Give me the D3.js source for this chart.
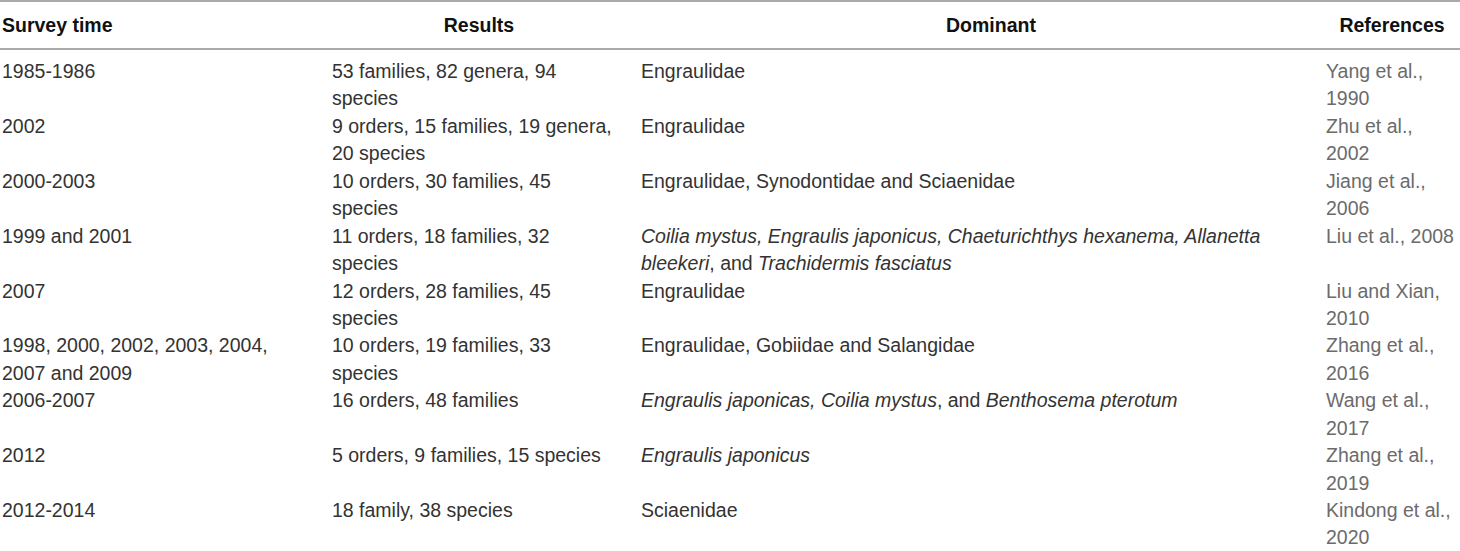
<!DOCTYPE html>
<html>
<head>
<meta charset="utf-8">
<script src="https://cdn.jsdelivr.net/npm/d3@7"></script>
<style>
  html, body { margin: 0; padding: 0; background: #fff; }
  svg { display: block; font-family: "Liberation Sans", Arial, sans-serif; }
</style>
</head>
<body>
<div id="chart"></div>
<script>
// Données du tableau (une ligne de texte = une entrée, *...* = italique)
const headers = ['Survey time', 'Results', 'Dominant', 'References'];

const surveyTimes = [
    ['1985-1986'],
    ['2002'],
    ['2000-2003'],
    ['1999 and 2001'],
    ['2007'],
    ['1998, 2000, 2002, 2003, 2004,', '2007 and 2009'],
    ['2006-2007'],
    ['2012'],
    ['2012-2014']
];

const results = [
    ['53 families, 82 genera, 94', 'species'],
    ['9 orders, 15 families, 19 genera,', '20 species'],
    ['10 orders, 30 families, 45', 'species'],
    ['11 orders, 18 families, 32', 'species'],
    ['12 orders, 28 families, 45', 'species'],
    ['10 orders, 19 families, 33', 'species'],
    ['16 orders, 48 families'],
    ['5 orders, 9 families, 15 species'],
    ['18 family, 38 species']
];

const dominants = [
    ['Engraulidae'],
    ['Engraulidae'],
    ['Engraulidae, Synodontidae and Sciaenidae'],
    ['*Coilia mystus, Engraulis japonicus, Chaeturichthys hexanema, Allanetta*', '*bleekeri*, and *Trachidermis fasciatus*'],
    ['Engraulidae'],
    ['Engraulidae, Gobiidae and Salangidae'],
    ['*Engraulis japonicas, Coilia mystus*, and *Benthosema pterotum*'],
    ['*Engraulis japonicus*'],
    ['Sciaenidae']
];

const references = [
    ['Yang et al.,', '1990'],
    ['Zhu et al.,', '2002'],
    ['Jiang et al.,', '2006'],
    ['Liu et al., 2008'],
    ['Liu and Xian,', '2010'],
    ['Zhang et al.,', '2016'],
    ['Wang et al.,', '2017'],
    ['Zhang et al.,', '2019'],
    ['Kindong et al.,', '2020']
];

const W = 1460, H = 551;
const FONT = 19.5;
const LINE_H = 27.4;

const svg = d3.select('#chart').append('svg')
    .attr('width', W)
    .attr('height', H)
    .attr('viewBox', `0 0 ${W} ${H}`);

// Colonnes : bord gauche du texte, position de l'en-tête
const colLeft    = [2, 332, 641, 1326];
const headAnchor = [
    { x: 2,    anchor: 'start'  },
    { x: 479,  anchor: 'middle' },
    { x: 991,  anchor: 'middle' },
    { x: 1392, anchor: 'middle' }
];
const colColor = ['#333', '#333', '#333', '#6b6b6b'];

// Lignes horizontales (haut + sous l'en-tête)
svg.selectAll('line.rule')
    .data([1, 49])
    .join('line')
    .attr('class', 'rule')
    .attr('x1', 0).attr('x2', W)
    .attr('y1', d => d).attr('y2', d => d)
    .attr('stroke', '#aaa')
    .attr('stroke-width', 2);

// En-tête
svg.selectAll('text.head')
    .data(headers)
    .join('text')
    .attr('class', 'head')
    .attr('x', (d, i) => headAnchor[i].x)
    .attr('y', 32)
    .attr('text-anchor', (d, i) => headAnchor[i].anchor)
    .attr('font-size', FONT + 'px')
    .attr('font-weight', 'bold')
    .attr('fill', '#111')
    .text(d => d);

// Positions verticales des lignes du tableau
const rowIdx = d3.range(surveyTimes.length);
const y = d3.scalePoint().domain(rowIdx).range([78, 517]);

const columns = [surveyTimes, results, dominants, references];

// Découpe d'une ligne en segments normal / italique
function segments(line) {
    return line.split('*').map((t, k) => ({ text: t, italic: k % 2 === 1 }))
        .filter(s => s.text.length);
}

columns.forEach((col, ci) => {
    col.forEach((lines, ri) => {
        lines.forEach((line, li) => {
            const t = svg.append('text')
                .attr('x', colLeft[ci])
                .attr('y', y(ri) + li * LINE_H)
                .attr('font-size', FONT + 'px')
                .attr('fill', colColor[ci]);
            t.selectAll('tspan')
                .data(segments(line))
                .join('tspan')
                .attr('font-style', s => s.italic ? 'italic' : 'normal')
                .text(s => s.text);
        });
    });
});
</script>
</body>
</html>
